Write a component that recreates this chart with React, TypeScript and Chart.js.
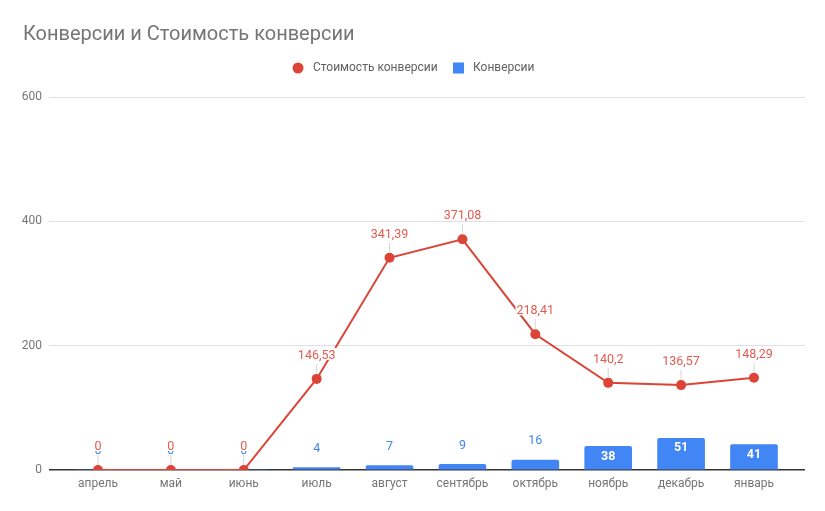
import { useEffect, useRef } from 'react';
import { Chart, registerables, Plugin } from 'chart.js';

Chart.register(...registerables);

const chartTitle = 'Конверсии и Стоимость конверсии';
const months = ['апрель', 'май', 'июнь', 'июль', 'август', 'сентябрь', 'октябрь', 'ноябрь', 'декабрь', 'январь'];
const conversions = [0, 0, 0, 4, 7, 9, 16, 38, 51, 41];
const conversionCost = [0, 0, 0, 146.53, 341.39, 371.08, 218.41, 140.2, 136.57, 148.29];
const yTicks = [0, 200, 400, 600];
const seriesNames = ['Стоимость конверсии', 'Конверсии'];

const RED = '#db4437';
const BLUE = '#4285f4';
const FONT = 'Roboto, "Noto Sans", sans-serif';

const fmt = (v: number) => String(v).replace('.', ',');

// value labels, title and legend drawn by hand (Google Charts look)
const decorPlugin: Plugin = {
  id: 'decor',
  afterDatasetsDraw(chart) {
    const ctx = chart.ctx;
    ctx.save();
    ctx.textAlign = 'center';
    ctx.textBaseline = 'middle';

    const bars = chart.getDatasetMeta(1).data as any[];
    bars.forEach((el, i) => {
      const v = conversions[i];
      const h = el.base - el.y;
      if (h > 20) {
        ctx.font = `bold 12.5px ${FONT}`;
        ctx.fillStyle = '#ffffff';
        ctx.fillText(String(v), el.x, el.y + 10);
      } else {
        ctx.font = `12.5px ${FONT}`;
        ctx.fillStyle = BLUE;
        ctx.fillText(String(v), el.x, el.y - 19);
      }
    });

    const pts = chart.getDatasetMeta(0).data as any[];
    pts.forEach((el, i) => {
      const txt = fmt(conversionCost[i]);
      ctx.strokeStyle = '#d6d6d6';
      ctx.lineWidth = 1;
      ctx.beginPath();
      ctx.moveTo(el.x, el.y - 5);
      ctx.lineTo(el.x, el.y - 15);
      ctx.stroke();
      ctx.font = `12.5px ${FONT}`;
      const w = ctx.measureText(txt).width;
      ctx.fillStyle = '#ffffff';
      ctx.fillRect(el.x - w / 2 - 1, el.y - 31, w + 2, 12);
      ctx.fillStyle = '#e25b50';
      ctx.fillText(txt, el.x, el.y - 23);
    });
    ctx.restore();
  },
  afterDraw(chart) {
    const ctx = chart.ctx;
    ctx.save();
    ctx.textBaseline = 'middle';
    ctx.textAlign = 'left';
    ctx.font = `20px ${FONT}`;
    ctx.fillStyle = '#757575';
    ctx.fillText(chartTitle, 23, 35);

    ctx.font = `12px ${FONT}`;
    ctx.fillStyle = RED;
    ctx.beginPath();
    ctx.arc(298, 68, 5.5, 0, Math.PI * 2);
    ctx.fill();
    ctx.fillStyle = '#616161';
    ctx.fillText(seriesNames[0], 313, 68);
    ctx.fillStyle = BLUE;
    ctx.fillRect(453, 62.5, 11, 11);
    ctx.fillStyle = '#616161';
    ctx.fillText(seriesNames[1], 473, 68);
    ctx.restore();
  },
};

export default function App() {
  const canvasRef = useRef<HTMLCanvasElement | null>(null);

  useEffect(() => {
    if (!canvasRef.current) return;
    const chart = new Chart(canvasRef.current, {
      type: 'bar',
      data: {
        datasets: [
          {
            type: 'line',
            label: seriesNames[0],
            data: conversionCost.map((v, i) => ({ x: i, y: v })),
            borderColor: RED,
            backgroundColor: RED,
            borderWidth: 2,
            pointRadius: 5,
            pointBorderWidth: 0,
            pointBackgroundColor: RED,
            tension: 0,
            order: 0,
          },
          {
            type: 'bar',
            label: seriesNames[1],
            data: conversions.map((v, i) => ({ x: i, y: v })),
            backgroundColor: BLUE,
            barThickness: 47,
            borderRadius: { topLeft: 2, topRight: 2, bottomLeft: 0, bottomRight: 0 },
            borderSkipped: false,
            order: 1,
          },
        ] as any,
      },
      options: {
        animation: false,
        responsive: true,
        maintainAspectRatio: false,
        layout: { padding: { top: 97, right: 20, left: 0, bottom: 0 } },
        plugins: {
          legend: { display: false },
          title: { display: false },
          tooltip: { enabled: false },
        },
        scales: {
          x: {
            type: 'linear',
            offset: false,
            min: -0.672,
            max: 9.7,
            afterBuildTicks: (s: any) => {
              s.ticks = months.map((_, i) => ({ value: i }));
            },
            afterFit: (s: any) => {
              s.height = 41;
            },
            ticks: {
              callback: (v: any) => months[v as number] ?? '',
              autoSkip: false,
              maxRotation: 0,
              color: '#757575',
              font: { size: 12, family: FONT },
              padding: 7,
            },
            grid: { display: false, drawTicks: false },
            border: { display: false },
          },
          y: {
            min: 0,
            max: 600,
            afterBuildTicks: (s: any) => {
              s.ticks = yTicks.map((v) => ({ value: v }));
            },
            afterFit: (s: any) => {
              s.width = 49;
            },
            ticks: {
              color: '#757575',
              font: { size: 12, family: FONT },
              padding: 7,
            },
            grid: {
              drawTicks: false,
              color: (c: any) => (c.tick && c.tick.value === 0 ? '#333333' : '#e0e0e0'),
              lineWidth: (c: any) => (c.tick && c.tick.value === 0 ? 1.5 : 1),
            },
            border: { display: false },
          },
        },
      },
      plugins: [decorPlugin],
    });
    return () => chart.destroy();
  }, []);

  return (
    <div style={{ position: 'absolute', left: 0, top: 0, width: 825, height: 511, background: '#fff' }}>
      <canvas ref={canvasRef} />
    </div>
  );
}
